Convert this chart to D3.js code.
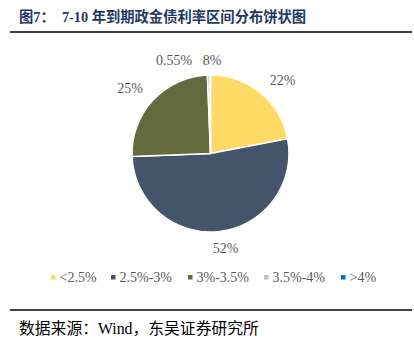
<!DOCTYPE html>
<head>
<meta charset="utf-8">
<style>
body { margin: 0; background: #fff; }
svg { display: block; }
text { white-space: pre; }
</style>
</head>
<body>
<script src="https://cdnjs.cloudflare.com/ajax/libs/d3/7.8.5/d3.min.js"></script>
<script>

// 7-10 year policy bank bond yield buckets
var categories = ['<2.5%', '2.5%-3%', '3%-3.5%', '3.5%-4%', '>4%'];
var values = [22, 52.4, 25, 0.55, 0.08];
var labels = ['22%', '52%', '25%', '0.55%', '8%'];
var colors = ['#FFD966', '#44546A', '#636B3E', '#BFBFBF', '#0070C0'];

var width = 414,
    height = 345;

var svg = d3.select('body').append('svg')
    .attr('width', width)
    .attr('height', height);

var serif = '"Liberation Serif", "Noto Sans CJK SC", serif';

svg.append('text')
    .attr('x', 19).attr('y', 22)
    .attr('font-family', serif)
    .attr('font-size', 14.3)
    .attr('font-weight', 'bold')
    .attr('fill', '#1F3864')
    .text('图7：  7-10 年到期政金债利率区间分布饼状图');

svg.append('line')
    .attr('x1', 10).attr('x2', 412)
    .attr('y1', 32).attr('y2', 32)
    .attr('stroke', '#000').attr('stroke-width', 1.6);

var cx = 210.5, cy = 153.5, r = 78.5;

var pie = d3.pie().sort(null).value(function(d) { return d; });
var arcs = pie(values);
var arc = d3.arc().innerRadius(0).outerRadius(r);

var g = svg.append('g').attr('transform', 'translate(' + cx + ',' + cy + ')');

g.selectAll('path')
    .data(arcs)
  .enter().append('path')
    .attr('d', arc)
    .attr('fill', function(d, i) { return colors[i]; })
    .attr('stroke', '#fff')
    .attr('stroke-width', 1.5);

// label positions (offsets from centre, tuned by eye)
var labelPos = [[72, -73.5], [15, 94.5], [-80.5, -65.5], [-36.5, -93.5], [1.5, -93.5]];
g.selectAll('text.lbl')
    .data(arcs)
  .enter().append('text')
    .attr('class', 'lbl')
    .attr('x', function(d, i) { return labelPos[i][0]; })
    .attr('y', function(d, i) { return labelPos[i][1]; })
    .attr('text-anchor', 'middle')
    .attr('dy', '0.35em')
    .attr('font-family', serif)
    .attr('font-size', 14)
    .attr('fill', '#595959')
    .text(function(d, i) { return labels[i]; });

// legend
var legendX = [51, 111, 188, 264, 341];
var legend = svg.append('g').attr('transform', 'translate(0,277)');
var item = legend.selectAll('g')
    .data(categories)
  .enter().append('g')
    .attr('transform', function(d, i) { return 'translate(' + legendX[i] + ',0)'; });

item.append('rect')
    .attr('x', 0).attr('y', -2)
    .attr('width', 4.5).attr('height', 4.5)
    .attr('fill', function(d, i) { return colors[i]; });

item.append('text')
    .attr('x', 8.5).attr('dy', '0.35em')
    .attr('font-family', serif)
    .attr('font-size', 14)
    .attr('fill', '#595959')
    .text(function(d) { return d; });

svg.append('line')
    .attr('x1', 10).attr('x2', 412)
    .attr('y1', 310).attr('y2', 310)
    .attr('stroke', '#000').attr('stroke-width', 1.6);

svg.append('text')
    .attr('x', 19).attr('y', 334)
    .attr('font-family', serif)
    .attr('font-size', 15.8)
    .attr('fill', '#000')
    .text('数据来源：Wind，东吴证券研究所');

</script>
</body>
</html>
